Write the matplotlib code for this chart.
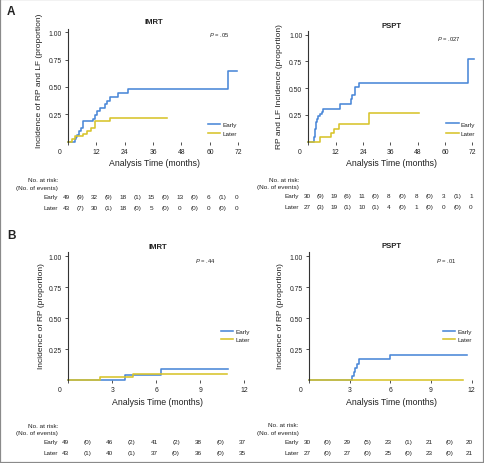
import matplotlib
matplotlib.use("Agg")
import matplotlib.pyplot as plt
from matplotlib.transforms import blended_transform_factory
from matplotlib.patches import Rectangle

plt.rcParams["font.family"] = ["Liberation Sans", "DejaVu Sans"]
plt.rcParams["mathtext.fontset"] = "custom"
plt.rcParams["mathtext.it"] = "Liberation Sans:italic"
plt.rcParams["mathtext.rm"] = "Liberation Sans"

# ---------------- data ----------------
groups = ["Early", "Later"]
y_ticks = [0.25, 0.50, 0.75, 1.00]
y_tick_labels = ["0.25", "0.50", "0.75", "1.00"]
xticks_a = [0, 12, 24, 36, 48, 60, 72]
xticks_b = [0, 3, 6, 9, 12]

# Panel A - IMRT
imrt_a_early_t = [0, 3.0, 3.4, 3.9, 4.8, 5.6, 6.6, 10.6, 11.6, 12.2, 13.6, 15.7, 16.7, 17.8, 21.4, 25.6, 67.5, 71.3]
imrt_a_early_v = [0, 0.02, 0.04, 0.06, 0.10, 0.12, 0.19, 0.21, 0.24, 0.28, 0.31, 0.34, 0.37, 0.41, 0.44, 0.48, 0.65, 0.65]
imrt_a_later_t = [0, 1.7, 3.0, 6.3, 8.3, 10.0, 11.7, 17.9, 42.0]
imrt_a_later_v = [0, 0.023, 0.047, 0.07, 0.10, 0.12, 0.185, 0.215, 0.215]
imrt_a_risk_early = [49, 32, 18, 15, 13, 6, 0]
imrt_a_events_early = [9, 9, 1, 0, 0, 1]
imrt_a_risk_later = [43, 30, 18, 5, 0, 0, 0]
imrt_a_events_later = [7, 1, 0, 0, 0, 0]

# Panel A - PSPT
pspt_a_early_t = [0, 2.7, 2.9, 3.0, 3.2, 3.6, 4.4, 5.2, 5.8, 6.5, 14.1, 18.6, 19.3, 20.3, 22.1, 70.0, 72.5]
pspt_a_early_v = [0, 0.04, 0.08, 0.12, 0.18, 0.21, 0.24, 0.26, 0.28, 0.31, 0.35, 0.40, 0.435, 0.51, 0.55, 0.77, 0.77]
pspt_a_later_t = [0, 5.0, 10.0, 11.3, 13.3, 26.8, 48.6]
pspt_a_later_v = [0, 0.04, 0.08, 0.12, 0.17, 0.27, 0.27]
pspt_a_risk_early = [30, 19, 11, 8, 8, 3, 1]
pspt_a_events_early = [9, 6, 0, 0, 0, 1]
pspt_a_risk_later = [27, 19, 10, 4, 1, 0, 0]
pspt_a_events_later = [3, 1, 1, 0, 0, 0]

# Panel B - IMRT
imrt_b_early_t = [0, 3.85, 6.35, 10.9]
imrt_b_early_v = [0, 0.043, 0.09, 0.09]
imrt_b_later_t = [0, 2.2, 4.4, 10.85]
imrt_b_later_v = [0, 0.023, 0.048, 0.048]
imrt_b_risk_early = [49, 46, 41, 38, 37]
imrt_b_events_early = [0, 2, 2, 0]
imrt_b_risk_later = [43, 40, 37, 36, 35]
imrt_b_events_later = [1, 1, 0, 0]

# Panel B - PSPT
pspt_b_early_t = [0, 3.18, 3.32, 3.43, 3.54, 3.69, 5.95, 11.67]
pspt_b_early_v = [0, 0.033, 0.067, 0.10, 0.133, 0.167, 0.205, 0.205]
pspt_b_later_t = [0, 11.35]
pspt_b_later_v = [0, 0]
pspt_b_risk_early = [30, 29, 23, 21, 20]
pspt_b_events_early = [0, 5, 1, 0]
pspt_b_risk_later = [27, 27, 25, 23, 21]
pspt_b_events_later = [0, 0, 0, 0]

# ---------------- style ----------------
W, H = 484, 464
BLUE = "#4a87d8"
YELLOW = "#d8c42a"
TXT = "#222222"
SPINE = "#333333"
PX = 0.72  # points per pixel at 100 dpi


def fx(px):
    return px / W


def fy(py):
    return 1 - py / H


fig = plt.figure(figsize=(W / 100, H / 100), dpi=100)
fig.patch.set_facecolor("white")
fig.patches.append(Rectangle((0, 0), 1, 1, transform=fig.transFigure, fill=False,
                             edgecolor="#8a8a8a", lw=1.6))

panels = [
    dict(geom=(67.7, 29.5, 240.7, 142.5), xmax=73, xticks=xticks_a, title="IMRT", title_y=24.3,
         ylabel="Incidence of RP and LF (proportion)", ylab_x=40, ylab_y=81,
         pval="= .05", p_x=230, p_y=35,
         et=imrt_a_early_t, ev=imrt_a_early_v, lt=imrt_a_later_t, lv=imrt_a_later_v,
         re=imrt_a_risk_early, ee=imrt_a_events_early, rl=imrt_a_risk_later, el=imrt_a_events_later,
         leg=(208, 220, 222.7, 126.3, 137.3), xlab_y=164, risk_right=58.3,
         risk_y=(181, 188.3, 197.8, 208.3)),
    dict(geom=(308.3, 32.0, 474.7, 142.7), xmax=73, xticks=xticks_a, title="PSPT", title_y=28.3,
         ylabel="RP and LF Incidence (proportion)", ylab_x=279.5, ylab_y=87,
         pval="= .027", p_x=460.3, p_y=38.7,
         et=pspt_a_early_t, ev=pspt_a_early_v, lt=pspt_a_later_t, lv=pspt_a_later_v,
         re=pspt_a_risk_early, ee=pspt_a_events_early, rl=pspt_a_risk_later, el=pspt_a_events_later,
         leg=(446, 458.7, 460.3, 126, 137.3), xlab_y=164, risk_right=299.3,
         risk_y=(180.5, 187.8, 197, 207.8)),
    dict(geom=(68, 253, 247.3, 381), xmax=12.2, xticks=xticks_b, title="IMRT", title_y=248.7,
         ylabel="Incidence of RP (proportion)", ylab_x=41.5, ylab_y=316,
         pval="= .44", p_x=216, p_y=260.7,
         et=imrt_b_early_t, ev=imrt_b_early_v, lt=imrt_b_later_t, lv=imrt_b_later_v,
         re=imrt_b_risk_early, ee=imrt_b_events_early, rl=imrt_b_risk_later, el=imrt_b_events_later,
         leg=(221, 233, 236, 333.3, 343.3), xlab_y=402.7, risk_right=58.3,
         risk_y=(426.5, 433.3, 442.7, 454)),
    dict(geom=(309, 253, 474.3, 381), xmax=12.2, xticks=xticks_b, title="PSPT", title_y=247.7,
         ylabel="Incidence of RP (proportion)", ylab_x=280, ylab_y=316,
         pval="= .01", p_x=456.3, p_y=260.7,
         et=pspt_b_early_t, ev=pspt_b_early_v, lt=pspt_b_later_t, lv=pspt_b_later_v,
         re=pspt_b_risk_early, ee=pspt_b_events_early, rl=pspt_b_risk_later, el=pspt_b_events_later,
         leg=(443, 455.3, 458, 333.3, 343.7), xlab_y=402.7, risk_right=298.7,
         risk_y=(426, 433.3, 442.7, 454)),
]

for p in panels:
    left, top, right, bottom = p["geom"]
    ax = fig.add_axes([fx(left), fy(bottom), (right - left) / W, (bottom - top) / H])
    ax.set_facecolor("none")
    hb = ax.step(p["et"], p["ev"], where="post", color=BLUE, lw=1.15, clip_on=False, label=groups[0])[0]
    hl = ax.step(p["lt"], p["lv"], where="post", color=YELLOW, lw=1.15, clip_on=False, label=groups[1])[0]
    ax.set_xlim(0, p["xmax"])
    ax.set_ylim(0, 1.035)
    ax.set_yticks(y_ticks)
    ax.set_yticklabels(y_tick_labels)
    ax.set_xticks(p["xticks"])
    ax.set_xticklabels([""] + [str(v) for v in p["xticks"][1:]])
    for s in ("top", "right", "bottom"):
        ax.spines[s].set_visible(False)
    ax.spines["left"].set_color(SPINE)
    ax.spines["left"].set_linewidth(0.8)
    ax.tick_params(axis="both", direction="out", length=3 * PX, width=0.6, color=SPINE,
                   labelsize=4.9, labelcolor=TXT)
    ax.tick_params(axis="y", pad=3 * PX)
    ax.tick_params(axis="x", pad=3.3 * PX)
    # the "0" label sits left of the y axis
    ax.annotate("0", xy=(0, 0), xycoords=("data", "axes fraction"),
                xytext=(-8.5 * PX, -9.8 * PX), textcoords="offset points",
                ha="center", va="center", fontsize=4.9, color=TXT)

    # title
    hpx = bottom - top
    ax.set_title(p["title"], fontsize=5.6, fontweight="bold", color=TXT, pad=0,
                 y=(bottom - p["title_y"]) / hpx)
    # axis labels
    ax.set_xlabel("Analysis Time (months)", fontsize=6.3, color=TXT)
    ax.xaxis.set_label_coords((left + right) / 2 / W, fy(p["xlab_y"]), transform=fig.transFigure)
    ax.xaxis.label.set_va("center")
    ax.set_ylabel(p["ylabel"], fontsize=6.0, color=TXT)
    ax.yaxis.set_label_coords(fx(p["ylab_x"]), fy(p["ylab_y"]), transform=fig.transFigure)
    ax.yaxis.label.set_va("center")

    # P value
    fig.text(fx(p["p_x"]), fy(p["p_y"]), r"$\it{P}$ " + p["pval"], fontsize=4.2, color=TXT,
             ha="right", va="center")

    # legend
    x1, x2, xt, y1, y2 = p["leg"]
    fs = 4.6
    leg = ax.legend([hb, hl], groups, loc="upper left", frameon=False, fontsize=fs,
                    bbox_to_anchor=(fx(x1), fy(y1 - 3.9)), bbox_transform=fig.transFigure,
                    borderpad=0, borderaxespad=0, handlelength=(x2 - x1) / (fs / PX),
                    handletextpad=(xt - x2) / (fs / PX), labelspacing=(y2 - y1 - 7.4) / (fs / PX))
    for t in leg.get_texts():
        t.set_color(TXT)

    # risk table
    rr = p["risk_right"]
    ya, yb, ye, yl = p["risk_y"]
    rfs = 4.6
    fig.text(fx(rr), fy(ya), "No. at risk:", fontsize=rfs, color=TXT, ha="right", va="center")
    fig.text(fx(rr), fy(yb), "(No. of events)", fontsize=rfs, color=TXT, ha="right", va="center")
    fig.text(fx(rr), fy(ye), groups[0], fontsize=rfs, color=TXT, ha="right", va="center")
    fig.text(fx(rr), fy(yl), groups[1], fontsize=rfs, color=TXT, ha="right", va="center")
    tr = blended_transform_factory(ax.transData, fig.transFigure)
    xt_ = p["xticks"]
    step = xt_[1] - xt_[0]
    for yy, risk, ev in ((ye, p["re"], p["ee"]), (yl, p["rl"], p["el"])):
        for xv, n in zip(xt_, risk):
            ax.text(xv - 0.05 * step, fy(yy), str(n), transform=tr, fontsize=rfs, color=TXT,
                    ha="center", va="center", clip_on=False)
        for xv, n in zip(xt_[:-1], ev):
            ax.text(xv + step / 2 - 0.05 * step, fy(yy), "(%d)" % n, transform=tr, fontsize=rfs,
                    color=TXT, ha="center", va="center", clip_on=False)

# panel letters
fig.text(fx(11), fy(12), "A", fontsize=8.5, fontweight="bold", color=TXT, ha="center", va="center")
fig.text(fx(11), fy(236.5), "B", fontsize=8.5, fontweight="bold", color=TXT, ha="center", va="center")

fig.savefig("out.png", dpi=100)
